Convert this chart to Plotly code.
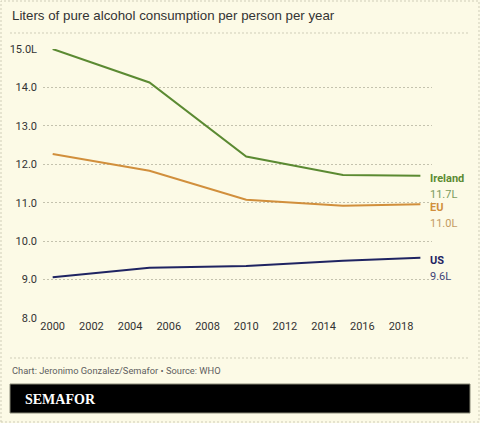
import plotly.graph_objects as go

# WHO: liters of pure alcohol per person per year
years = [2000, 2005, 2010, 2015, 2019]
ireland = [15.0, 14.13, 12.2, 11.72, 11.7]
eu = [12.27, 11.83, 11.08, 10.92, 10.96]
us = [9.06, 9.31, 9.35, 9.49, 9.57]

series_names = ["Ireland", "EU", "US"]
series_values = [ireland, eu, us]
series_labels = ["11.7L", "11.0L", "9.6L"]
colors = ["#5b8a32", "#d18f3c", "#1f2462"]
label_colors = ["#7b9a5c", "#c49a62", "#3f4478"]

y_ticks = [8, 9, 10, 11, 12, 13, 14, 15]
y_ticktext = ["8.0", "9.0", "10.0", "11.0", "12.0", "13.0", "14.0", "15.0L"]
x_ticks = list(range(2000, 2019, 2))

bg = "#fcfae6"
W, H = 480, 423
L, R, T, B = 43, 48, 49, 105
pw, ph = W - L - R, H - T - B
FONT = "Roboto, Liberation Sans, sans-serif"


def px(x):
    return (x - L) / pw


def py(y):
    return (H - B - y) / ph


fig = go.Figure()
for name, vals, c in zip(series_names, series_values, colors):
    fig.add_trace(go.Scatter(x=years, y=vals, mode="lines", name=name,
                             line=dict(color=c, width=2), cliponaxis=False,
                             hoverinfo="x+y"))

# end labels: name just at line end, value below it
for name, vals, lab, c, lc in zip(series_names, series_values, series_labels,
                                  colors, label_colors):
    fig.add_annotation(x=years[-1], y=vals[-1], text="<b>%s</b>" % name, xanchor="left",
                       yanchor="middle", xshift=8, yshift=-3, showarrow=False,
                       font=dict(size=11, color=c, family=FONT))
    fig.add_annotation(x=years[-1], y=vals[-1], text=lab, xanchor="left",
                       yanchor="middle", xshift=8, yshift=-19, showarrow=False,
                       font=dict(size=11, color=lc, family=FONT))

# title, footer, logo bar
fig.add_annotation(xref="paper", yref="paper", x=px(10), y=py(16), xanchor="left",
                   yanchor="middle", showarrow=False,
                   text="Liters of pure alcohol consumption per person per year",
                   font=dict(size=13.3, color="#333333", family="Liberation Sans, Arial, sans-serif"))
fig.add_annotation(xref="paper", yref="paper", x=px(10), y=py(370), xanchor="left",
                   yanchor="middle", showarrow=False,
                   text="Chart: Jeronimo Gonzalez/Semafor • Source: WHO",
                   font=dict(size=9.3, color="#5e5e5e", family=FONT))
fig.add_shape(type="rect", xref="paper", yref="paper", x0=px(10), x1=px(470),
              y0=py(413), y1=py(384), fillcolor="#000000", line=dict(color="#888877", width=1))
fig.add_annotation(xref="paper", yref="paper", x=px(23), y=py(399), xanchor="left",
                   yanchor="middle", showarrow=False, text="<b>SEMAFOR</b>",
                   font=dict(size=14, color="#ffffff", family="Liberation Serif, DejaVu Serif, serif"))

dot = dict(color="#cfcdb8", width=1, dash="2px,2px")
fig.add_shape(type="line", xref="paper", yref="paper", x0=px(10), x1=px(470),
              y0=py(33), y1=py(33), line=dot)
fig.add_shape(type="line", xref="paper", yref="paper", x0=px(10), x1=px(470),
              y0=py(358), y1=py(358), line=dot)
fig.add_shape(type="rect", xref="paper", yref="paper", x0=px(1), x1=px(479),
              y0=py(422), y1=py(1), line=dot)

fig.update_layout(
    width=W, height=H, margin=dict(l=L, r=R, t=T, b=B),
    paper_bgcolor=bg, plot_bgcolor=bg, showlegend=False,
    font=dict(family=FONT, size=11, color="#333333"),
)
fig.update_xaxes(range=[1999.5, 2019.6], tickvals=x_ticks, showgrid=False, zeroline=False,
                 showline=False, ticks="", automargin=False,
                 tickfont=dict(size=11, color="#333333"))
fig.update_yaxes(range=[8, 15], tickvals=y_ticks, ticktext=y_ticktext, showgrid=True,
                 gridcolor="#c4c2ae", griddash="2px,2px", gridwidth=1, zeroline=False,
                 showline=False, ticks="", ticklabelstandoff=5, automargin=False,
                 tickfont=dict(size=11, color="#333333"))

fig.write_html("out.html", config={"displayModeBar": False},
               post_script="document.body.style.margin='0';")
